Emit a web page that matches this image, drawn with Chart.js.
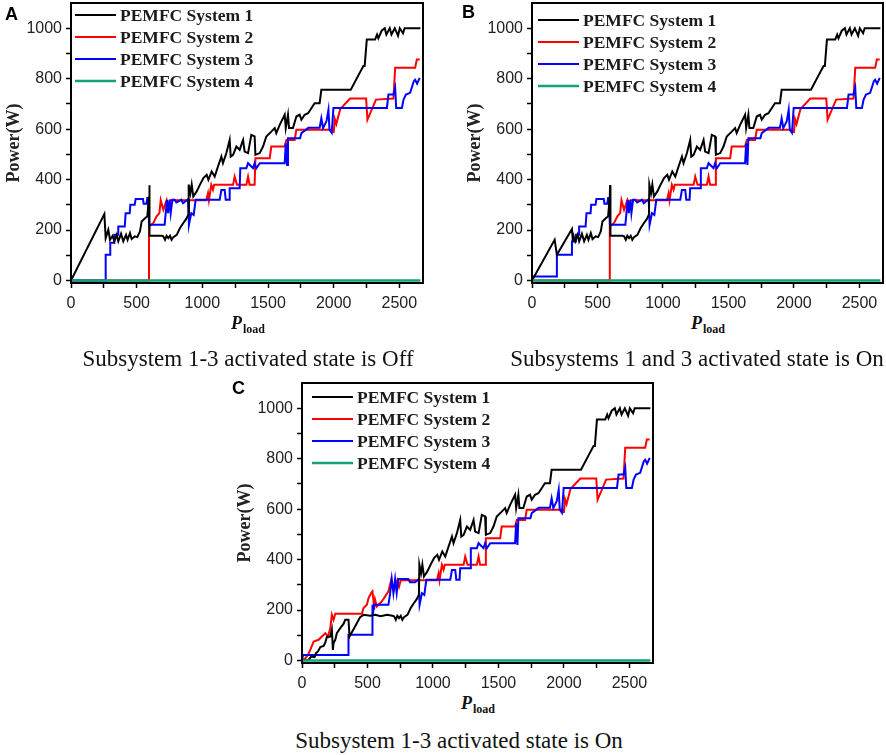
<!DOCTYPE html>
<html>
<head>
<meta charset="utf-8">
<script src="https://cdn.jsdelivr.net/npm/chart.js@4.4.0/dist/chart.umd.min.js"></script>
<style>
  body { margin: 0; width: 886px; height: 755px; background: #fff; position: relative; overflow: hidden; }
  .panel { position: absolute; }
  .letter { position: absolute; font: bold 18px "Liberation Sans", Arial, sans-serif; line-height: 18px; color: #000; }
  .cap { position: absolute; font: 23px "Liberation Serif", "Times New Roman", serif; line-height: 23px; white-space: nowrap; transform: translateX(-50%); color: #111; }
  .pl { position: absolute; font: bold italic 18px "Liberation Serif", serif; line-height: 18px; white-space: nowrap; transform: translateX(-50%); color: #111; }
  .pl span { font-style: normal; font-size: 12px; position: relative; top: 4px; margin-left: 1px; }
</style>
</head>
<body>
<div class="panel" style="left:0;top:0;width:440px;height:313px"><canvas id="chartA"></canvas></div>
<div class="panel" style="left:461px;top:0;width:425px;height:313px"><canvas id="chartB"></canvas></div>
<div class="panel" style="left:231px;top:380px;width:440px;height:313px"><canvas id="chartC"></canvas></div>

<div class="letter" style="left:5px;top:5px">A</div>
<div class="letter" style="left:462px;top:3px">B</div>
<div class="letter" style="left:232px;top:379px">C</div>

<div class="pl" style="left:248px;top:314px">P<span>load</span></div>
<div class="pl" style="left:708px;top:314px">P<span>load</span></div>
<div class="pl" style="left:478px;top:694px">P<span>load</span></div>

<div class="cap" style="left:248px;top:347px">Subsystem 1-3 activated state is Off</div>
<div class="cap" style="left:697px;top:347px">Subsystems 1 and 3 activated state is On</div>
<div class="cap" style="left:459px;top:729px">Subsystem 1-3 activated state is On</div>

<script>
// Series names / colours
const seriesNames = ['PEMFC System 1', 'PEMFC System 2', 'PEMFC System 3', 'PEMFC System 4'];
const seriesColors = ['#000000', '#ff0000', '#0000ff', '#13a07a'];

// Tick marks and labels
const xTickMarks = [0, 250, 500, 750, 1000, 1250, 1500, 1750, 2000, 2250, 2500];
const xTickLabels = [0, 500, 1000, 1500, 2000, 2500];
const yTickMarks = [0, 100, 200, 300, 400, 500, 600, 700, 800, 900, 1000];
const yTickLabels = [0, 200, 400, 600, 800, 1000];

// PEMFC System 1 (black) [Pload, W]
const blackHeadA = [[0,0],[254,263],[264,168],[284,201],[297,161]];
const blackHeadB = [[0,0],[173,161],[190,102],[305,204],[312,155]];
const blackMidAB = [[317,177],[330,155],[348,181],[360,155],[381,185],[398,155],[419,181],[431,161],[449,188],[462,164],[487,175],[505,172],[525,194],[538,234],[563,247],[581,254],[594,333],[596,378],[599,177],[690,177]];
const blackHeadC = [[0,0],[51,3],[71,16],[96,13],[107,29],[122,36],[140,53],[165,58],[178,71],[190,93],[216,95],[228,122],[236,42],[241,69],[254,82],[266,108],[292,128],[317,145],[330,161],[355,161],[363,95],[400,130],[444,172],[470,181],[520,177],[560,181],[600,175],[650,181],[690,177]];
const blackTail = [[703,175],[716,161],[728,177],[741,168],[754,177],[766,161],[779,172],[805,181],[830,208],[855,228],[876,243],[893,261],[896,380],[909,346],[919,380],[931,333],[957,353],[982,380],[1008,406],[1033,419],[1046,399],[1071,432],[1094,412],[1119,452],[1145,491],[1157,465],[1183,505],[1208,557],[1216,491],[1234,498],[1259,531],[1284,518],[1310,557],[1322,511],[1348,505],[1373,577],[1398,571],[1404,498],[1437,505],[1462,531],[1487,571],[1525,590],[1551,604],[1563,584],[1589,617],[1627,657],[1635,604],[1652,657],[1660,604],[1690,604],[1716,650],[1741,657],[1754,637],[1779,657],[1805,663],[1830,683],[1855,703],[1893,703],[1906,756],[2130,756],[2190,815],[2226,850],[2236,850],[2252,955],[2315,955],[2330,975],[2340,960],[2365,990],[2389,1000],[2401,975],[2427,1000],[2440,975],[2465,1000],[2490,970],[2503,1000],[2528,980],[2540,1000],[2660,1000]];

// PEMFC System 2 (red)
const redHeadAB = [[0,0],[594,0],[594,214],[627,228],[652,254],[673,267],[683,318],[703,280],[728,318],[741,293],[754,318]];
const redHeadC = [[0,0],[25,9],[46,22],[63,42],[89,75],[127,82],[152,95],[178,108],[198,95],[216,128],[228,181],[241,161],[254,185],[457,185],[470,208],[495,221],[508,247],[528,267],[538,274],[546,234],[551,201],[558,241],[571,214],[609,234],[635,254],[660,274],[680,318],[703,280],[728,318],[741,293],[754,318]];
const redTail = [[1030,318],[1043,346],[1050,318],[1068,379],[1081,360],[1090,379],[1234,379],[1246,412],[1264,379],[1335,379],[1348,412],[1360,379],[1398,379],[1404,485],[1513,485],[1525,531],[1627,531],[1640,557],[1703,557],[1716,598],[1995,598],[2000,585],[2008,640],[2020,620],[2035,650],[2050,680],[2125,721],[2247,721],[2257,637],[2322,717],[2455,721],[2468,843],[2620,843],[2633,876],[2655,876]];

// PEMFC System 3 (blue)
const blueHeadA = [[0,0],[264,0],[264,102],[299,102],[299,150],[330,150],[330,181]];
const blueHeadB = [[0,0],[13,16],[185,16],[190,102],[305,102],[305,155],[335,155],[335,181]];
const blueMidAB = [[360,181],[360,214],[409,214],[416,267],[447,267],[452,300],[485,300],[492,323],[548,323],[553,304],[574,304],[581,327],[589,327],[594,221],[713,221],[721,267],[731,320],[739,267],[751,320],[759,267],[772,320],[789,320],[802,309],[840,320],[853,306],[891,322]];
const blueHeadC = [[0,0],[8,22],[355,22],[355,102],[538,102],[538,221],[545,200],[550,221],[660,221],[673,267],[685,323],[698,267],[711,323],[723,267],[736,323],[812,323],[825,310],[863,310],[891,322]];
const blueTail = [[898,221],[916,267],[934,260],[949,320],[1132,320],[1145,359],[1170,359],[1178,320],[1203,320],[1208,366],[1284,366],[1289,445],[1335,445],[1348,465],[1386,445],[1398,465],[1411,445],[1437,465],[1627,465],[1635,544],[1645,458],[1652,564],[1744,564],[1754,584],[1807,605],[1893,605],[1906,643],[1919,604],[1945,631],[1960,677],[1968,598],[1985,585],[1998,684],[2405,684],[2417,737],[2455,737],[2468,764],[2476,684],[2519,684],[2532,717],[2550,737],[2582,744],[2610,790],[2620,796],[2635,780],[2655,803]];

// PEMFC System 4 (green)
const greenLine = [[0,0],[2660,0]];

// Legend drawn inside the plot area
const pemfcLegend = {
  id: 'pemfcLegend',
  afterDatasetsDraw(chart, args, opts) {
    const { ctx, chartArea } = chart;
    ctx.save();
    ctx.font = 'bold 17.5px "Liberation Serif"';
    ctx.textBaseline = 'middle';
    seriesNames.forEach((name, i) => {
      const x = chartArea.left + opts.dx;
      const y = chartArea.top + opts.dy + i * 22;
      ctx.strokeStyle = seriesColors[i];
      ctx.lineWidth = i === 3 ? 2.5 : 2;
      ctx.beginPath();
      ctx.moveTo(x, y);
      ctx.lineTo(x + 41, y);
      ctx.stroke();
      ctx.fillStyle = '#1a1a1a';
      ctx.fillText(name, x + 45, y + 1);
    });
    ctx.restore();
  }
};

// Box around the plot area
const frame = {
  id: 'frame',
  afterDraw(chart) {
    const { ctx, chartArea: a } = chart;
    ctx.save();
    ctx.strokeStyle = '#000';
    ctx.lineWidth = 2;
    ctx.strokeRect(a.left, a.top, a.right - a.left, a.bottom - a.top);
    ctx.restore();
  }
};

const tickFont = { family: 'Liberation Sans', size: 16 };
const drawOrder = [1, 3, 2, 0];

function drawPanel(id, sets, padRight, legend) {
  return new Chart(document.getElementById(id), {
    type: 'line',
    data: {
      datasets: sets.map((pts, i) => ({
        label: seriesNames[i],
        data: pts.map(p => ({ x: p[0], y: p[1] })),
        borderColor: seriesColors[i],
        backgroundColor: seriesColors[i],
        borderWidth: i === 3 ? 2.5 : 2,
        pointRadius: 0,
        tension: 0,
        fill: false,
        order: drawOrder[i],
      })),
    },
    options: {
      responsive: true,
      maintainAspectRatio: false,
      animation: false,
      layout: { padding: { left: 0, right: padRight, top: 3, bottom: 0 } },
      plugins: {
        legend: { display: false },
        tooltip: { enabled: false },
        pemfcLegend: legend,
      },
      scales: {
        x: {
          type: 'linear',
          min: 0,
          max: 2680,
          border: { display: false },
          grid: { drawOnChartArea: false, drawTicks: true, tickLength: 5, tickColor: '#000', tickWidth: 1.5 },
          afterBuildTicks: s => { s.ticks = xTickMarks.map(v => ({ value: v })); },
          afterFit: s => { s.height = 30; s.paddingLeft = 0; s.paddingRight = 0; },
          ticks: {
            autoSkip: false,
            maxRotation: 0,
            padding: 6,
            color: '#222',
            font: tickFont,
            callback: v => (xTickLabels.includes(v) ? v : ''),
          },
        },
        y: {
          type: 'linear',
          min: -10,
          max: 1100,
          border: { display: false },
          grid: { drawOnChartArea: false, drawTicks: true, tickLength: 5, tickColor: '#000', tickWidth: 1.5 },
          afterBuildTicks: s => { s.ticks = yTickMarks.map(v => ({ value: v })); },
          afterFit: s => { s.width = 71; s.paddingTop = 0; s.paddingBottom = 0; },
          ticks: {
            autoSkip: false,
            padding: 4,
            color: '#222',
            font: tickFont,
            callback: v => (yTickLabels.includes(v) ? v : ''),
          },
          title: {
            display: true,
            text: 'Power(W)',
            color: '#222',
            padding: { top: 4, bottom: 0 },
            font: { family: 'Liberation Serif', size: 18, weight: 'bold' },
          },
        },
      },
    },
    plugins: [pemfcLegend, frame],
  });
}

drawPanel('chartA', [
  [...blackHeadA, ...blackMidAB, ...blackTail],
  [...redHeadAB, ...redTail],
  [...blueHeadA, ...blueMidAB, ...blueTail],
  greenLine,
], 17, { dx: 4, dy: 12 });

drawPanel('chartB', [
  [...blackHeadB, ...blackMidAB, ...blackTail],
  [...redHeadAB, ...redTail],
  [...blueHeadB, ...blueMidAB, ...blueTail],
  greenLine,
], 3, { dx: 6, dy: 17 });

drawPanel('chartC', [
  [...blackHeadC, ...blackTail],
  [...redHeadC, ...redTail],
  [...blueHeadC, ...blueTail],
  greenLine,
], 18, { dx: 10, dy: 14 });
</script>
</body>
</html>
